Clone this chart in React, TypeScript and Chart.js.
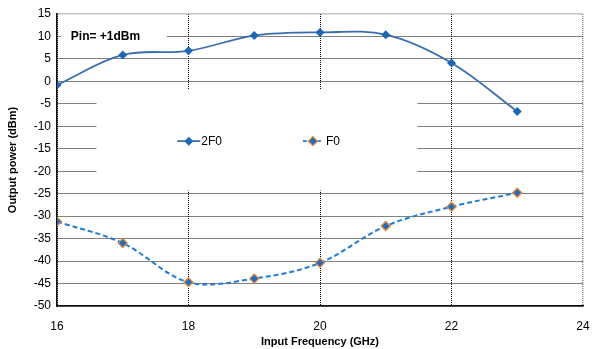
import React, { useEffect, useRef } from "react";
import { Chart, registerables } from "chart.js";

Chart.register(...registerables);

const frequencies = [16, 17, 18, 19, 20, 21, 22, 23];
const series2F0 = [-0.8, 5.9, 6.8, 10.2, 10.9, 10.4, 4.1, -6.7];
const seriesF0 = [-31.2, -36.0, -44.7, -43.9, -40.4, -32.2, -27.9, -24.8];
const xTickMin = 16;
const xTickMax = 24;
const yTickMin = -50;
const yTickMax = 15;
const annotationText = "Pin= +1dBm";
const legendLabels = ["2F0", "F0"];

const FONT = "'Liberation Sans', Arial, Helvetica, sans-serif";
const C2F0 = "#3a6db0";
const C2F0_PT = "#1f66b5";
const CF0 = "#1e7ad2";
const CF0_PT = "#1c6cc0";
const CF0_BORDER = "#e2883a";

function diamond(ctx: CanvasRenderingContext2D, x: number, y: number, r: number, fill: string, stroke?: string) {
  ctx.beginPath();
  ctx.moveTo(x, y - r);
  ctx.lineTo(x + r, y);
  ctx.lineTo(x, y + r);
  ctx.lineTo(x - r, y);
  ctx.closePath();
  ctx.fillStyle = fill;
  ctx.fill();
  if (stroke) {
    ctx.strokeStyle = stroke;
    ctx.lineWidth = 1.3;
    ctx.stroke();
  }
}

const overlayPlugin = {
  id: "overlay",
  beforeDatasetsDraw(chart: any) {
    const ctx = chart.ctx as CanvasRenderingContext2D;
    const xs = chart.scales.x;
    const ys = chart.scales.y;
    ctx.save();
    const lx0 = xs.getPixelForValue(16.6);
    const lx1 = xs.getPixelForValue(21.48);
    const ly0 = ys.getPixelForValue(-1.7);
    const ly1 = ys.getPixelForValue(-24.3);
    ctx.fillStyle = "#fff";
    ctx.fillRect(lx0, ly0, lx1 - lx0, ly1 - ly0);
    const ax0 = xs.getPixelForValue(16.06);
    const ax1 = xs.getPixelForValue(17.67);
    const ay0 = ys.getPixelForValue(12.6);
    const ay1 = ys.getPixelForValue(7.4);
    ctx.fillRect(ax0, ay0, ax1 - ax0, ay1 - ay0);
    ctx.restore();
  },
  afterDatasetsDraw(chart: any) {
    const ctx = chart.ctx as CanvasRenderingContext2D;
    const xs = chart.scales.x;
    const ys = chart.scales.y;
    ctx.save();
    ctx.font = `bold 12px ${FONT}`;
    ctx.fillStyle = "#000";
    ctx.textBaseline = "middle";
    ctx.textAlign = "left";
    ctx.fillText(annotationText, xs.getPixelForValue(16.21), ys.getPixelForValue(10));
    const ly = ys.getPixelForValue(-13.3);
    const l1 = xs.getPixelForValue(17.83);
    ctx.lineWidth = 1.8;
    ctx.strokeStyle = C2F0;
    ctx.setLineDash([]);
    ctx.beginPath();
    ctx.moveTo(l1, ly);
    ctx.lineTo(l1 + 23, ly);
    ctx.stroke();
    diamond(ctx, l1 + 11.5, ly, 4.5, C2F0_PT);
    ctx.font = `12px ${FONT}`;
    ctx.fillStyle = "#000";
    ctx.fillText(legendLabels[0], l1 + 24, ly + 0.5);
    const l2 = xs.getPixelForValue(19.74);
    ctx.lineWidth = 1.8;
    ctx.strokeStyle = CF0;
    ctx.setLineDash([4, 3]);
    ctx.beginPath();
    ctx.moveTo(l2, ly);
    ctx.lineTo(l2 + 20, ly);
    ctx.stroke();
    ctx.setLineDash([]);
    diamond(ctx, l2 + 10, ly, 4.5, CF0_PT, CF0_BORDER);
    ctx.fillStyle = "#000";
    ctx.fillText(legendLabels[1], l2 + 23, ly + 0.5);
    ctx.restore();
  },
};

export default function App() {
  const ref = useRef<HTMLCanvasElement>(null);
  useEffect(() => {
    if (!ref.current) return;
    const chart = new Chart(ref.current, {
      type: "line",
      data: {
        datasets: [
          {
            label: legendLabels[0],
            data: frequencies.map((f, i) => ({ x: f, y: series2F0[i] })),
            borderColor: C2F0,
            backgroundColor: C2F0_PT,
            borderWidth: 1.8,
            pointStyle: "rectRot",
            pointRadius: 4.5,
            pointBorderWidth: 0,
            pointBackgroundColor: C2F0_PT,
            tension: 0.35,
            fill: false,
          },
          {
            label: legendLabels[1],
            data: frequencies.map((f, i) => ({ x: f, y: seriesF0[i] })),
            borderColor: CF0,
            borderWidth: 2,
            borderDash: [5, 3],
            pointStyle: "rectRot",
            pointRadius: 4.5,
            pointBorderWidth: 1.3,
            pointBackgroundColor: CF0_PT,
            pointBorderColor: CF0_BORDER,
            tension: 0.35,
            fill: false,
          },
        ],
      },
      options: {
        animation: false,
        responsive: false,
        maintainAspectRatio: false,
        layout: { padding: { left: 0, top: 14, right: 11, bottom: 0 } },
        plugins: { legend: { display: false }, tooltip: { enabled: false } },
        scales: {
          x: {
            type: "linear",
            min: xTickMin,
            max: xTickMax,
            ticks: { stepSize: 2, color: "#000", font: { family: FONT, size: 12 }, padding: 13 },
            grid: {
              drawTicks: false,
              color: (c: any) => (c.tick && c.tick.value === xTickMax ? "#8a8a8a" : "#000"),
              lineWidth: (c: any) => (c.tick && c.tick.value === xTickMax ? 1.5 : 1),
            },
            border: { display: true, color: "#111", width: 1.5, dash: [1, 1] },
            title: {
              display: true,
              text: "Input Frequency (GHz)",
              color: "#000",
              font: { family: FONT, size: 11, weight: "bold" },
              padding: { top: 4, bottom: 0 },
            },
            afterFit: (s: any) => {
              s.height = 43;
              s.paddingLeft = 0;
              s.paddingRight = 0;
            },
          },
          y: {
            min: yTickMin,
            max: yTickMax,
            ticks: { stepSize: 5, color: "#000", font: { family: FONT, size: 12 }, padding: 6 },
            grid: {
              drawTicks: false,
              color: (c: any) => (c.tick && c.tick.value === yTickMax ? "#8a8a8a" : "#000"),
              lineWidth: (c: any) => (c.tick && c.tick.value === yTickMax ? 1.5 : 1),
            },
            border: { display: true, color: "#111", width: 1.5, dash: [1, 1] },
            title: {
              display: true,
              text: "Output power (dBm)",
              color: "#000",
              font: { family: FONT, size: 11, weight: "bold" },
              padding: { top: 6, bottom: 0 },
            },
            afterFit: (s: any) => {
              s.width = 57;
              s.paddingTop = 0;
              s.paddingBottom = 0;
            },
          },
        },
      },
      plugins: [overlayPlugin],
    } as any);
    return () => chart.destroy();
  }, []);
  return (
    <div style={{ position: "fixed", left: 0, top: 0, width: 594, height: 349, background: "#fff" }}>
      <canvas ref={ref} width={594} height={349} style={{ width: 594, height: 349 }} />
    </div>
  );
}
